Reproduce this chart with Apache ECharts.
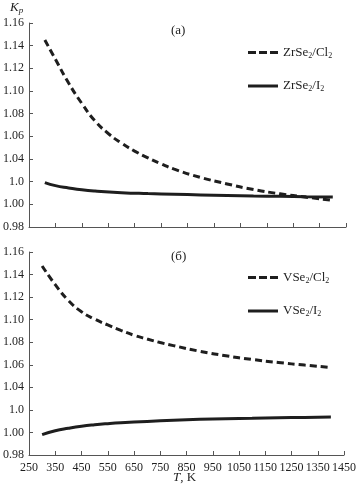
<!DOCTYPE html>
<html><head><meta charset="utf-8">
<script src="https://cdn.jsdelivr.net/npm/echarts@6/dist/echarts.min.js"></script>
<style>html,body{margin:0;padding:0;background:#fff}#c{width:359px;height:488px}</style>
</head><body><div id="c"></div>
<script>
// Top panel (а)
const zrCl2T = [310,350,400,450,500,550,600,650,700,750,800,900,1000,1100,1200,1300,1390];
const zrCl2V = [1.145,1.128,1.107,1.089,1.0735,1.0625,1.054,1.047,1.041,1.0357,1.031,1.0237,1.018,1.013,1.0093,1.0063,1.0038];
const zrI2T = [310,350,400,450,500,600,700,800,900,1000,1100,1200,1300,1400];
const zrI2V = [1.0192,1.0165,1.0145,1.0128,1.0117,1.0103,1.0095,1.0089,1.0083,1.0078,1.0074,1.0071,1.0068,1.0065];
// Bottom panel (б)
const vCl2T = [300,350,400,450,500,550,600,650,700,750,800,900,1000,1100,1200,1300,1390];
const vCl2V = [1.1476,1.131,1.117,1.107,1.1005,1.0953,1.0905,1.0862,1.0828,1.0797,1.077,1.072,1.068,1.0647,1.062,1.0597,1.0578];
const vI2T = [300,350,400,450,500,550,600,700,800,900,1000,1100,1200,1300,1400];
const vI2V = [0.998,1.0015,1.0037,1.0055,1.0068,1.0078,1.0086,1.0098,1.0108,1.0116,1.0122,1.0126,1.013,1.0133,1.0136];
// Tick labels (as printed in the original)
const yTickVals = [0.98,1.00,1.02,1.04,1.06,1.08,1.10,1.12,1.14,1.16];
const yTickLabels = ['0.98','1.00','1.0','1.04','1.06','1.08','1.10','1.12','1.14','1.16'];
const xTicks = [250,350,450,550,650,750,850,950,1050,1150,1250,1350,1450];

const font = 'Liberation Serif, Times New Roman, serif';
const ink = '#1e1e1e';
const axisCol = '#555';
const zip = (a,b)=>a.map((x,i)=>[x,b[i]]);
const yLabel = v => { const k = yTickVals.findIndex(t=>Math.abs(t-v)<1e-6); return k>=0 ? yTickLabels[k] : ''; };
const xLabel = v => { const k = xTicks.findIndex(t=>Math.abs(t-v)<1e-6); return k>=0 ? String(xTicks[k]) : ''; };
const sub = {fontSize: 8, fontFamily: font, color: ink, padding:[6,0,0,0]};
const dashIcon = 'path://M0,0h8v3h-8z M11,0h8v3h-8z M22,0h8v3h-8z';
const solidIcon = 'path://M0,0h30v3h-30z';

function xAxis(gi, showLabels){
  return {type:'value', gridIndex:gi, min:250, max:1450, interval:100,
    axisLine:{show:true, lineStyle:{color:axisCol, width:1}},
    axisTick:{show:true, inside:true, length:4, lineStyle:{color:axisCol}},
    splitLine:{show:false},
    axisLabel:{show:showLabels, margin:7, fontFamily:font, fontSize:12, color:ink, formatter:xLabel, hideOverlap:false, showMinLabel:true, showMaxLabel:true}};
}
function yAxis(gi){
  return {type:'value', gridIndex:gi, min:0.98, max:1.16, interval:0.02,
    axisLine:{show:true, lineStyle:{color:axisCol, width:1}},
    axisTick:{show:true, inside:true, length:4, lineStyle:{color:axisCol}},
    splitLine:{show:false},
    axisLabel:{margin:5, fontFamily:font, fontSize:12, color:ink, formatter:yLabel}};
}
function line(name, gi, data, dashed){
  return {name, type:'line', xAxisIndex:gi, yAxisIndex:gi, data, symbol:'none', smooth:true,
    lineStyle:{color:ink, width:3, type: dashed ? [7,4] : 'solid'}, itemStyle:{color:ink}};
}
function legend(names, top){
  return {orient:'vertical', left:248, top:top, padding:0, itemWidth:30, itemHeight:3, itemGap:20,
    data:[{name:names[0], icon:dashIcon},{name:names[1], icon:solidIcon}],
    formatter: n => n.replace(/(\d)/g,'{s|$1}'),
    textStyle:{fontFamily:font, fontSize:13, color:ink, rich:{s:sub}}};
}

const chart = echarts.init(document.getElementById('c'), null, {renderer:'canvas'});
chart.setOption({
  animation:false,
  grid:[{left:27, top:23, width:319, height:204}, {left:27, top:252, width:319, height:203}],
  xAxis:[xAxis(0,false), xAxis(1,true)],
  yAxis:[yAxis(0), yAxis(1)],
  legend:[legend(['ZrSe2/Cl2','ZrSe2/I2'], 46), legend(['VSe2/Cl2','VSe2/I2'], 271)],
  series:[
    line('ZrSe2/Cl2',0,zip(zrCl2T,zrCl2V),true),
    line('ZrSe2/I2',0,zip(zrI2T,zrI2V),false),
    line('VSe2/Cl2',1,zip(vCl2T,vCl2V),true),
    line('VSe2/I2',1,zip(vI2T,vI2V),false)
  ],
  graphic:[
    {type:'text', left:10, top:1, style:{text:'{k|K}{p|p}', rich:{k:{fontFamily:font, fontStyle:'italic', fontSize:13, fill:ink}, p:{fontFamily:font, fontStyle:'italic', fontSize:9, fill:ink, padding:[6,0,0,0]}}}},
    {type:'text', left:171, top:24, style:{text:'(а)', fontFamily:font, fontSize:13, fill:ink}},
    {type:'text', left:171, top:250, style:{text:'(б)', fontFamily:font, fontSize:13, fill:ink}},
    {type:'text', left:173, top:471, style:{text:'{t|T}{r|, K}', rich:{t:{fontFamily:font, fontStyle:'italic', fontSize:13, fill:ink}, r:{fontFamily:font, fontSize:13, fill:ink}}}}
  ]
});
</script></body></html>
